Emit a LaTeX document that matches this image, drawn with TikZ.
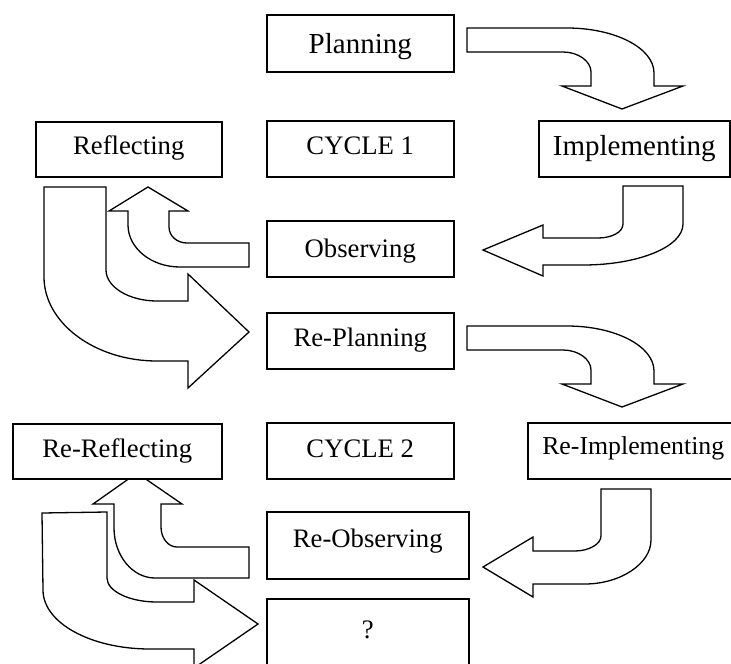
\documentclass[tikz,border=0pt]{standalone}
\usepackage{fontspec}
\setmainfont{Liberation Serif}
\begin{document}
\begin{tikzpicture}[x=1pt,y=-1pt,
  box/.style={draw, fill=white, line width=1.5pt, inner sep=0pt, anchor=north west, align=center, font=\fontsize{26.7}{32}\selectfont},
  bigfont/.style={font=\fontsize{29}{34}\selectfont},
  smallfont/.style={font=\fontsize{25.8}{31}\selectfont},
  barrow/.style={draw, fill=white, line width=1.3pt, line join=miter}]
\useasboundingbox (0,0) rectangle (731,664);
\clip (0,0) rectangle (731,664);
% block arrows
\draw[barrow] (467,28) -- (567,28) .. controls (615,28) and (654,48) .. (654,73) -- (654,86) -- (683,86) -- (622,109) -- (562,86) -- (591,86) -- (591,72) .. controls (591,61) and (578,52) .. (563,52) -- (467,52) -- cycle;
\draw[barrow, shift={(0,298)}] (467,28) -- (567,28) .. controls (615,28) and (654,48) .. (654,73) -- (654,86) -- (683,86) -- (622,109) -- (562,86) -- (591,86) -- (591,72) .. controls (591,61) and (578,52) .. (563,52) -- (467,52) -- cycle;
\draw[barrow] (623,186) -- (683,186) -- (683,224) .. controls (683,247) and (638,265) .. (583,265) -- (543,265) -- (543,276) -- (483,250) -- (543,225) -- (543,238) -- (598,238) .. controls (612,238) and (623,232) .. (623,224) -- cycle;
\draw[barrow] (249,243) -- (187,243) .. controls (177,243) and (169,236) .. (169,227) -- (169,211) -- (188,211) -- (148,187) -- (109,211) -- (128,211) -- (128,225) .. controls (128,248) and (151,267) .. (180,267) -- (249,267) -- cycle;
\draw[barrow] (44,187) -- (106,187) -- (106,270) .. controls (106,287) and (129,301) .. (157,301) -- (188,301) -- (188,274) -- (249,332) -- (188,388) -- (188,361) -- (157,361) .. controls (95,361) and (44,323) .. (44,277) -- cycle;
\draw[barrow] (601,489) -- (651,489) -- (651,540) .. controls (651,564) and (620,584) .. (585,584) -- (533,584) -- (533,597) -- (483,567) -- (533,537) -- (533,551) -- (575,551) .. controls (589,551) and (601,544) .. (601,536) -- cycle;
\draw[barrow] (42,513) -- (107,512) -- (107,578) .. controls (107,591) and (129,602) .. (157,602) -- (194,602) -- (194,580) -- (258,624) -- (194,668) -- (194,649) -- (150,649) .. controls (91,649) and (43,623) .. (43,590) -- cycle;
\draw[barrow] (249,547) -- (177,547) .. controls (168,547) and (161,538) .. (161,527) -- (161,504) -- (182,504) -- (137,473) -- (93,504) -- (114,504) -- (114,528) .. controls (114,555) and (132,578) .. (155,578) -- (249,578) -- cycle;
% boxes
\node[box, bigfont, minimum width=187pt, text height=39pt, text depth=18pt] (plan) at (266,14) {Planning};
\node[box, minimum width=186pt, text height=33pt, text depth=22pt] (refl) at (35,121) {Reflecting};
\node[box, minimum width=187pt, text height=34pt, text depth=22pt] (cyc1) at (266,120) {CYCLE 1};
\node[box, bigfont, minimum width=191pt, text height=35pt, text depth=21pt] (impl) at (538,120) {Implementing};
\node[box, minimum width=187pt, text height=37pt, text depth=19pt] (obs) at (266,220) {Observing};
\node[box, minimum width=187pt, text height=34pt, text depth=22pt] (replan) at (266,312) {Re-Planning};
\node[box, minimum width=209pt, text height=34pt, text depth=21pt] (rerefl) at (12,423) {Re-Reflecting};
\node[box, minimum width=187pt, text height=35pt, text depth=21pt] (cyc2) at (266,422) {CYCLE 2};
\node[box, smallfont, minimum width=211pt, text height=32pt, text depth=24pt] (reimpl) at (527,422) {Re-Implementing};
\node[box, minimum width=202pt, text height=36pt, text depth=31pt] (reobs) at (266,511) {Re-Observing};
\node[box, minimum width=202pt, text height=40pt, text depth=62pt] (q) at (266,598) {?};
\end{tikzpicture}
\end{document}
